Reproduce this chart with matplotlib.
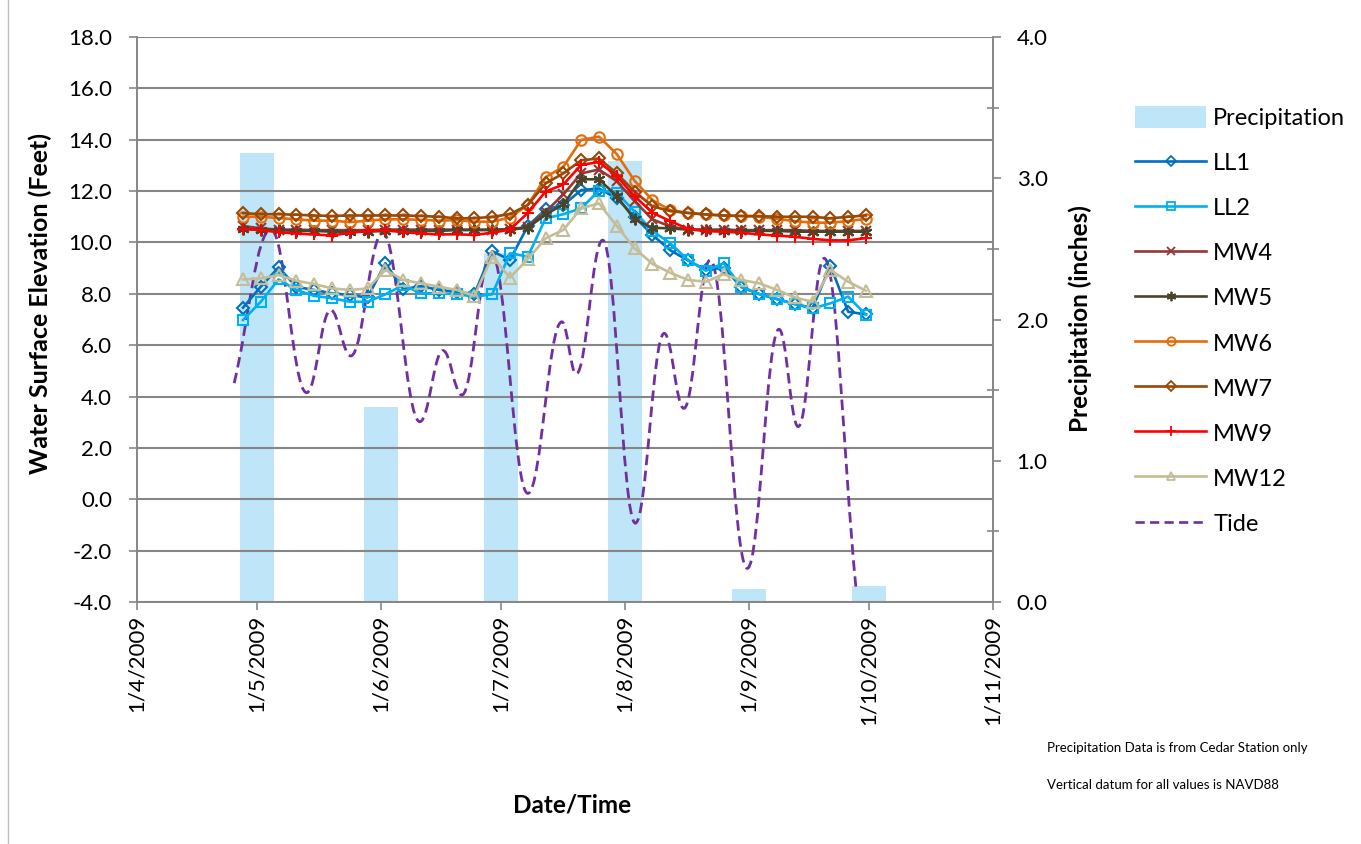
import numpy as np
import pandas as pd
import matplotlib
matplotlib.use("Agg")
import matplotlib.pyplot as plt
import matplotlib.dates as mdates
from matplotlib.path import Path
from matplotlib.patches import PathPatch, Patch
from matplotlib.lines import Line2D

plt.rcParams['font.family'] = ['Lato', 'DejaVu Sans']

# sampling times of the well / logger series
sample_times = pd.date_range("2009-04-27 12:00", "2009-09-30 06:00", periods=36)

ll1 = [7.46, 8.28, 9.03, 8.27, 8.15, 8.02, 7.95, 7.86, 9.19, 8.18, 8.30, 8.15,
       8.08, 7.99, 9.66, 9.32, 10.64, 11.29, 11.46, 12.04, 12.10, 11.72, 11.00, 10.29,
       9.70, 9.30, 8.93, 9.02, 8.26, 7.99, 7.79, 7.60, 7.45, 9.10, 7.30, 7.20]
ll2 = [6.98, 7.69, 8.56, 8.15, 7.92, 7.83, 7.69, 7.69, 7.98, 8.34, 8.02, 8.02,
       7.99, 7.89, 7.98, 9.58, 9.45, 10.94, 11.10, 11.33, 12.02, 11.94, 11.20, 10.45,
       9.97, 9.32, 8.90, 9.19, 8.28, 7.99, 7.80, 7.60, 7.43, 7.63, 7.89, 7.18]
mw4 = [10.64, 10.55, 10.50, 10.50, 10.48, 10.48, 10.48, 10.48, 10.50, 10.50, 10.50, 10.50,
       10.50, 10.50, 10.50, 10.52, 10.60, 11.20, 11.87, 12.69, 12.84, 12.38, 11.61, 10.90,
       10.62, 10.50, 10.50, 10.50, 10.48, 10.48, 10.48, 10.48, 10.45, 10.45, 10.45, 10.45]
mw5 = [10.52, 10.50, 10.48, 10.45, 10.45, 10.42, 10.42, 10.42, 10.45, 10.45, 10.45, 10.45,
       10.48, 10.48, 10.48, 10.50, 10.57, 11.09, 11.48, 12.46, 12.46, 11.80, 10.90, 10.57,
       10.55, 10.50, 10.48, 10.45, 10.45, 10.45, 10.45, 10.42, 10.42, 10.42, 10.42, 10.42]
mw6 = [11.00, 11.00, 10.95, 10.90, 10.85, 10.85, 10.79, 10.85, 10.90, 10.90, 10.88, 10.85,
       10.87, 10.81, 10.81, 10.97, 11.46, 12.54, 12.95, 13.99, 14.12, 13.44, 12.40, 11.65,
       11.26, 11.15, 11.09, 11.05, 11.03, 11.00, 10.92, 10.83, 10.77, 10.77, 10.83, 10.92]
mw7 = [11.14, 11.10, 11.10, 11.08, 11.05, 11.03, 11.05, 11.05, 11.05, 11.05, 11.03, 11.00,
       10.94, 10.94, 11.00, 11.10, 11.46, 12.30, 12.69, 13.20, 13.27, 12.69, 11.98, 11.41,
       11.22, 11.15, 11.09, 11.05, 11.03, 11.03, 11.00, 11.00, 11.00, 10.94, 11.00, 11.05]
mw9 = [10.53, 10.48, 10.40, 10.35, 10.31, 10.27, 10.38, 10.44, 10.48, 10.40, 10.35, 10.31,
       10.32, 10.29, 10.38, 10.50, 11.15, 11.98, 12.26, 13.02, 13.13, 12.58, 11.80, 11.16,
       10.83, 10.53, 10.44, 10.42, 10.38, 10.31, 10.27, 10.22, 10.14, 10.08, 10.08, 10.17]
mw12 = [8.56, 8.60, 8.73, 8.51, 8.38, 8.21, 8.15, 8.21, 8.93, 8.54, 8.41, 8.28,
        8.15, 7.92, 9.45, 8.63, 9.35, 10.16, 10.49, 11.33, 11.52, 10.64, 9.77, 9.17,
        8.82, 8.54, 8.47, 8.76, 8.54, 8.41, 8.15, 7.86, 7.69, 8.93, 8.47, 8.12]

# tide: highs / lows
tide_times = ["2009-04-25 07:00", "2009-05-04 12:00", "2009-05-13 10:00", "2009-05-19 10:00",
              "2009-05-24 10:00", "2009-06-01 10:00", "2009-06-10 17:00", "2009-06-16 12:00",
              "2009-06-21 05:00", "2009-06-28 14:00", "2009-07-07 17:00", "2009-07-16 05:00",
              "2009-07-19 19:00", "2009-07-26 10:00", "2009-08-03 14:00", "2009-08-10 19:00",
              "2009-08-15 17:00", "2009-08-22 07:00", "2009-08-31 14:00", "2009-09-08 12:00",
              "2009-09-13 07:00", "2009-09-19 19:00", "2009-09-27 17:00"]
tide = [4.52, 10.50, 4.15, 7.37, 5.58, 10.38, 3.02, 5.79, 4.06, 9.58, 0.23, 6.91,
        4.88, 10.09, -0.93, 6.46, 3.54, 9.32, -2.69, 6.62, 2.83, 9.38, -3.40]

precip_dates = ["2009-05-01", "2009-06-01", "2009-07-01", "2009-08-01", "2009-09-01", "2009-10-01"]
precip = [3.18, 1.38, 2.47, 3.12, 0.09, 0.11]

series = [
    ("LL1", ll1, "#0070C0", "D", 6.5),
    ("LL2", ll2, "#00B0F0", "s", 7),
    ("MW4", mw4, "#953735", "x", 7.5),
    ("MW5", mw5, "#4A452A", (6, 2, 0), 8.5),
    ("MW6", mw6, "#E46C0A", "o", 7.5),
    ("MW7", mw7, "#984807", "D", 6.5),
    ("MW9", mw9, "#FF0000", "+", 8.5),
    ("MW12", mw12, "#C4BD97", "^", 8),
]

W, H = 1361, 844
fig = plt.figure(figsize=(W / 100, H / 100), dpi=100)
ax = fig.add_axes([137 / W, 1 - 602 / H, 856 / W, 565 / H])
ax2 = ax.twinx()
ax.set_zorder(ax2.get_zorder() + 1)
ax.patch.set_visible(False)

grey = "#868686"
tick_fs = 16

# precipitation bars (secondary axis)
pd_num = mdates.date2num(pd.to_datetime(precip_dates))
ax2.bar(pd_num, precip, width=8.7, color="#BFE6F8", zorder=1)
ax2.set_ylim(0, 4)
ax2.set_yticks([0, 1, 2, 3, 4])
ax2.set_yticks(np.arange(0.5, 4, 1.0), minor=True)
ax2.yaxis.set_major_formatter(plt.FuncFormatter(lambda v, p: f"{v:.1f}"))
ax2.tick_params(axis="y", which="major", length=6, width=1.2, color=grey,
                labelsize=tick_fs, pad=11)
ax2.tick_params(axis="y", which="minor", direction="inout", length=9, width=1.2, color=grey)

# water level series
tnum = mdates.date2num(sample_times)
for name, vals, col, mk, ms in series:
    ax.plot(tnum, vals, color=col, lw=1.9, marker=mk, ms=ms, mfc="none",
            mec=col, mew=1.5, zorder=3)

# tide as smooth curve through highs and lows
tx = mdates.date2num(pd.to_datetime(tide_times))
ty = np.array(tide)
verts = [(tx[0], ty[0])]
codes = [Path.MOVETO]
k = 0.4
for i in range(len(tx) - 1):
    dx = tx[i + 1] - tx[i]
    dy = ty[i + 1] - ty[i]
    if i == 0:
        c1 = (tx[i] + k * dx, ty[i] + k * dy)
    else:
        c1 = (tx[i] + k * dx, ty[i])
    if i + 1 == len(tx) - 1:
        c2 = (tx[i + 1] - k * dx, ty[i + 1] - k * dy)
    else:
        c2 = (tx[i + 1] - k * dx, ty[i + 1])
    verts += [c1, c2, (tx[i + 1], ty[i + 1])]
    codes += [Path.CURVE4] * 3
ax.add_patch(PathPatch(Path(verts, codes), fill=False, edgecolor="#7030A0",
                       lw=2.0, linestyle=(0, (3.8, 2)), zorder=2))

ax.set_ylim(-4, 18)
ax.set_yticks(np.arange(-4, 18.1, 2))
ax.yaxis.set_major_formatter(plt.FuncFormatter(lambda v, p: f"{v:.1f}"))
ax.grid(axis="y", color=grey, lw=1.5, zorder=0)
ax.set_axisbelow(True)

x0 = mdates.date2num(pd.Timestamp("2009-04-01"))
x1 = mdates.date2num(pd.Timestamp("2009-11-01"))
ax.set_xlim(x0, x1)
months = pd.date_range("2009-04-01", "2009-11-01", freq="MS")
ax.set_xticks(mdates.date2num(months))
ax.set_xticklabels([f"{d.day}/{d.month}/{d.year}" for d in months], rotation=90,
                   fontsize=tick_fs)

ax.tick_params(axis="y", length=6, width=1.2, color=grey, labelsize=tick_fs, pad=12)
ax.tick_params(axis="x", length=6, width=1.2, color=grey, pad=3)

for a in (ax, ax2):
    a.spines["top"].set_visible(False)
    for s in ("left", "right", "bottom"):
        a.spines[s].set_color(grey)
        a.spines[s].set_linewidth(1.2)

fig.text(40 / W, 1 - 303 / H, "Water Surface Elevation (Feet)", rotation=90,
         ha="center", va="center", fontsize=18, fontweight="bold")
fig.text(1080 / W, 1 - 319 / H, "Precipitation (inches)", rotation=90,
         ha="center", va="center", fontsize=17.5, fontweight="bold")
fig.text(572 / W, 1 - 805 / H, "Date/Time", ha="center", va="center",
         fontsize=17.5, fontweight="bold")
fig.text(1047 / W, 1 - 748 / H, "Precipitation Data is from Cedar Station only",
         ha="left", va="center", fontsize=9.5)
fig.text(1047 / W, 1 - 785 / H, "Vertical datum for all values is NAVD88",
         ha="left", va="center", fontsize=9.5)

# legend
handles = [Patch(facecolor="#BFE6F8", edgecolor="none")]
labels = ["Precipitation"]
for name, vals, col, mk, ms in series:
    handles.append(Line2D([], [], color=col, lw=1.9, marker=mk, ms=ms * 0.8,
                          mfc="none", mec=col, mew=1.3))
    labels.append(name)
handles.append(Line2D([], [], color="#7030A0", lw=1.9, linestyle=(0, (3.5, 2))))
labels.append("Tide")
fig.legend(handles, labels, loc="upper left", bbox_to_anchor=(1126 / W, 1 - 97 / H),
           frameon=False, fontsize=17, handlelength=3.0, handleheight=1.0,
           labelspacing=0.95, handletextpad=0.3, borderaxespad=0)

fig.add_artist(Line2D([8 / W, 8 / W], [0, 1], color="#BFBFBF", lw=1))

fig.savefig("out.png", dpi=100)
